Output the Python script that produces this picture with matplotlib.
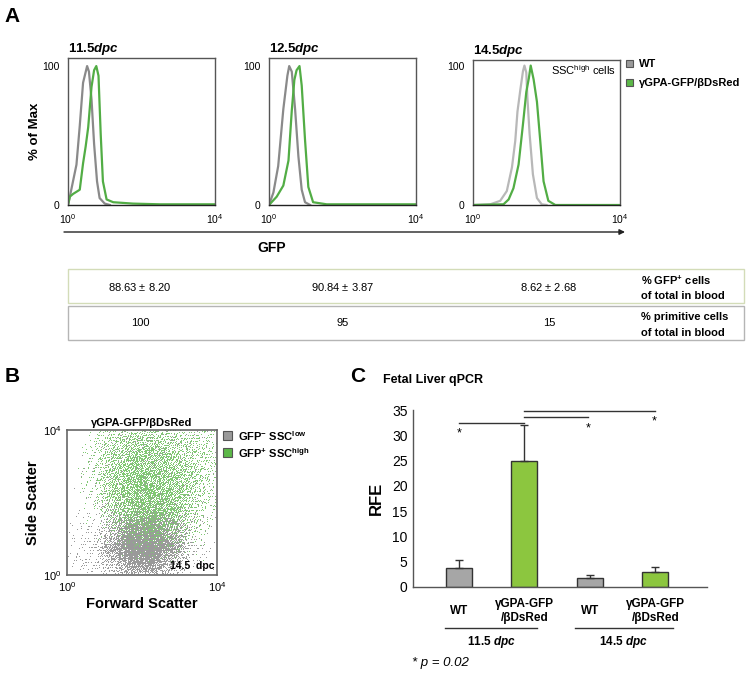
import numpy as np
import matplotlib
matplotlib.use("Agg")
import matplotlib.pyplot as plt
from matplotlib.patches import Rectangle

plt.rcParams['font.family'] = ['Liberation Sans', 'DejaVu Sans']
plt.rcParams['mathtext.fontset'] = 'custom'
plt.rcParams['mathtext.rm'] = 'Liberation Sans'
plt.rcParams['mathtext.it'] = 'Liberation Sans:italic'
plt.rcParams['mathtext.bf'] = 'Liberation Sans:bold'
plt.rcParams['mathtext.bfit'] = 'Liberation Sans:bold:italic'

# ---- data: panel A histograms (x in log10 decades, y in % of max) ----
h115_wt_x = [0.0, 0.05, 0.23, 0.32, 0.41, 0.52, 0.57, 0.64, 0.71, 0.79, 0.86, 1.0, 1.14]
h115_wt_y = [0, 6, 29, 57, 88, 100, 96, 76, 44, 17, 5, 1, 0]
h115_gfp_x = [0.0, 0.05, 0.14, 0.32, 0.41, 0.48, 0.55, 0.64, 0.71, 0.77, 0.83, 0.89, 0.95, 1.05, 1.23, 1.77, 2.5, 4.0]
h115_gfp_y = [0, 6, 8, 11, 30, 42, 56, 85, 97, 100, 93, 51, 17, 4, 2, 1, 0.5, 0.5]

h125_wt_x = [0.0, 0.12, 0.25, 0.39, 0.5, 0.55, 0.62, 0.71, 0.8, 0.89, 0.98, 1.12]
h125_wt_y = [0, 9, 28, 69, 93, 100, 96, 69, 35, 11, 2, 0]
h125_gfp_x = [0.0, 0.21, 0.39, 0.53, 0.62, 0.69, 0.75, 0.83, 0.89, 0.98, 1.07, 1.2, 1.57, 4.0]
h125_gfp_y = [0, 6, 14, 32, 68, 90, 97, 100, 86, 47, 13, 2, 0.5, 0.5]

h145_wt_x = [0.0, 0.47, 0.74, 0.92, 1.06, 1.15, 1.21, 1.29, 1.36, 1.4, 1.45, 1.48, 1.54, 1.63, 1.74, 1.87, 2.0]
h145_wt_y = [0, 0.5, 3, 10, 27, 46, 67, 83, 96, 100, 95, 77, 51, 22, 5, 0.5, 0]
h145_gfp_x = [0.0, 0.83, 0.97, 1.1, 1.24, 1.36, 1.45, 1.52, 1.57, 1.65, 1.74, 1.83, 1.92, 2.05, 2.24, 4.0]
h145_gfp_y = [0, 0.5, 4, 12, 29, 58, 81, 91, 100, 90, 74, 46, 17, 3, 0, 0]

hist_days = ["11.5", "12.5", "14.5"]

# table under panel A
gfp_mean = ["88.63", "90.84", "8.62"]
gfp_sd = ["8.20", "3.87", "2.68"]
primitive_pct = ["100", "95", "15"]

# ---- data: panel B scatter density (events per 0.5-decade cell, rows top -> bottom) ----
green_grid = [
    [0, 12, 45, 65, 65, 55, 40, 22],
    [0, 18, 75, 105, 105, 85, 55, 28],
    [0, 20, 90, 130, 130, 110, 65, 28],
    [0, 15, 80, 140, 150, 120, 65, 22],
    [0, 5, 50, 110, 130, 110, 55, 12],
    [0, 0, 15, 50, 70, 60, 28, 5],
    [0, 0, 0, 10, 15, 15, 5, 0],
    [0, 0, 0, 0, 0, 0, 0, 0],
]
gray_grid = [
    [0, 4, 10, 12, 12, 10, 6, 2],
    [0, 5, 12, 15, 15, 12, 6, 2],
    [0, 5, 12, 18, 18, 14, 6, 2],
    [1, 6, 15, 25, 25, 18, 8, 2],
    [2, 8, 30, 60, 60, 35, 10, 3],
    [4, 12, 80, 250, 280, 120, 20, 4],
    [8, 20, 150, 450, 450, 200, 25, 4],
    [12, 15, 60, 180, 180, 60, 10, 2],
]

# ---- data: panel C qPCR ----
bar_labels = ["WT", "γGPA-GFP\n/βDsRed", "WT", "γGPA-GFP\n/βDsRed"]
rfe = [3.8, 25.0, 1.8, 3.0]
rfe_err = [1.5, 7.0, 0.5, 1.0]
groups = ["11.5", "14.5"]

W, H = 754, 678
fig = plt.figure(figsize=(W / 100, H / 100), dpi=100)


def box(l, t, r, b):
    return [l / W, 1 - b / H, (r - l) / W, (b - t) / H]


GRAY_LINE = '#8a8a8a'
GREEN_LINE = '#52ad45'

# ---- panel A ----
hist_boxes = [(68, 58, 215, 205), (269, 58, 416, 205), (473, 60, 620, 205)]
hist_data = [(h115_wt_x, h115_wt_y, h115_gfp_x, h115_gfp_y),
             (h125_wt_x, h125_wt_y, h125_gfp_x, h125_gfp_y),
             (h145_wt_x, h145_wt_y, h145_gfp_x, h145_gfp_y)]
hist_top = [105.8, 105.8, 104.0]
for i, (bx, d) in enumerate(zip(hist_boxes, hist_data)):
    ax = fig.add_axes(box(*bx))
    wt_col = GRAY_LINE if i < 2 else '#b8b8b8'
    ax.plot(d[0], d[1], color=wt_col, lw=1.6)
    ax.plot(d[2], d[3], color=GREEN_LINE, lw=1.6)
    ax.set_xlim(0, 4)
    ax.set_ylim(0, hist_top[i])
    ax.set_xticks([0, 4], ['$10^0$', '$10^4$'])
    ax.set_yticks([0, 100], ['0', '100'])
    ax.tick_params(axis='x', length=0, labelsize=7.5, pad=5)
    ax.tick_params(axis='y', length=0, labelsize=7.5, pad=6)
    for s in ax.spines.values():
        s.set_color('#555555')
        s.set_linewidth(1)
    ax.spines['bottom'].set_color('#222222')
    ax.set_title(hist_days[i] + r'$\mathbfit{dpc}$', loc='left', fontsize=9.5,
                 fontweight='bold', pad=4)
    if i == 2:
        ax.text(0.97, 0.93, r'SSC$^{\rm high}$ cells', transform=ax.transAxes,
                ha='right', va='center', fontsize=8)

# ---- panel B ----
axb = fig.add_axes(box(67, 430, 217, 575))
# deterministic low-discrepancy placement of the events of each cell
phi4 = 1.1673039782614187
alph = [(1 / phi4 ** k) % 1 for k in range(1, 5)]
for grid, col in [(gray_grid, '#9a9a9a'), (green_grid, '#80c873')]:
    xs, ys = [], []
    n0 = 0
    nrow = len(grid)
    for r, row in enumerate(grid):
        for c, cnt in enumerate(row):
            n = np.arange(n0, n0 + cnt * 2)
            n0 += cnt * 2
            q = [(0.5 + a * n) % 1 for a in alph]
            cx = c * 0.5 + 0.25
            cy = (nrow - 1 - r) * 0.5 + 0.25
            xs.append(cx + (q[0] + q[1] - 1) * 0.5)
            ys.append(cy + (q[2] + q[3] - 1) * 0.5)
    xs = np.concatenate(xs)
    ys = np.concatenate(ys)
    keep = (xs > 0.02) & (xs < 3.98) & (ys > 0.02) & (ys < 3.98)
    axb.plot(xs[keep], ys[keep], ',', color=col)
axb.set_xlim(0, 4)
axb.set_ylim(0, 4)
axb.set_xticks([0, 4], ['$10^0$', '$10^4$'])
axb.set_yticks([0, 4], ['$10^0$', '$10^4$'])
axb.tick_params(length=0, labelsize=8, pad=4)
for s in axb.spines.values():
    s.set_color('#666666')
    s.set_linewidth(1.2)
axb.set_title('γGPA-GFP/βDsRed', fontsize=8, fontweight='bold', pad=3)
axb.set_xlabel('Forward Scatter', fontsize=10.5, fontweight='bold', labelpad=2)
axb.set_ylabel('Side Scatter', fontsize=10.5, fontweight='bold', labelpad=2)
axb.text(0.98, 0.03, '14.5  dpc', transform=axb.transAxes, ha='right', va='bottom',
         fontsize=7.5, fontweight='bold')

# ---- panel C ----
axc = fig.add_axes(box(413, 410, 707, 587))
xpos = np.arange(len(rfe))
bar_cols = ['#a6a6a6', '#8cc63f', '#a6a6a6', '#8cc63f']
axc.bar(xpos, rfe, width=0.4, color=bar_cols, edgecolor='#333333', linewidth=1, zorder=2)
axc.errorbar(xpos, rfe, yerr=[[0] * len(rfe), rfe_err], fmt='none', ecolor='#333333',
             elinewidth=1, capsize=3, capthick=1, zorder=3)
axc.set_xlim(-0.70, 3.79)
axc.set_ylim(0, 35)
axc.set_yticks(np.arange(0, 36, 5))
axc.set_xticks([])
axc.tick_params(length=0, labelsize=10, pad=4)
for s in ['top', 'right']:
    axc.spines[s].set_visible(False)
for s in ['left', 'bottom']:
    axc.spines[s].set_color('#555555')
    axc.spines[s].set_linewidth(1)
axc.set_ylabel('RFE', fontsize=12, fontweight='bold', labelpad=6)

# significance brackets
sig = [(0, 1, 32.4, 0, 30.4), (1, 1.98, 33.6, 1.98, 31.4), (1, 2.99, 34.8, 2.99, 32.8)]
for x0, x1, yl, xs_, ys_ in sig:
    axc.plot([x0, x1], [yl, yl], color='#333333', lw=1, clip_on=False)
    axc.text(xs_, ys_, '*', ha='center', va='center', fontsize=9)

trans = axc.get_xaxis_transform()
for x, lab in zip(xpos, bar_labels):
    axc.text(x, -0.135, lab, transform=trans, ha='center', va='center',
             fontsize=8.5, fontweight='bold', clip_on=False)
group_spans = [(-0.21, 1.2), (1.77, 3.27)]
for (g0, g1), glab in zip(group_spans, groups):
    axc.plot([g0, g1], [-0.232, -0.232], transform=trans, color='#333333', lw=1,
             clip_on=False)
    axc.text((g0 + g1) / 2, -0.31, glab + r' $\mathbfit{dpc}$', transform=trans,
             ha='center', va='center', fontsize=8.5, fontweight='bold', clip_on=False)

# ---- overlay for figure level text ----
ov = fig.add_axes([0, 0, 1, 1])
ov.set_xlim(0, W)
ov.set_ylim(H, 0)
ov.axis('off')

ov.text(12, 17, 'A', fontsize=15, fontweight='heavy', ha='center', va='center')
ov.text(12, 376, 'B', fontsize=15, fontweight='heavy', ha='center', va='center')
ov.text(358, 376, 'C', fontsize=15, fontweight='heavy', ha='center', va='center')

ov.text(35, 131, '% of Max', rotation=90, fontsize=9.5, fontweight='bold',
        ha='center', va='center')
ov.annotate('', xy=(625, 232), xytext=(64, 232),
            arrowprops=dict(arrowstyle='-|>', color='#222222', lw=1,
                            mutation_scale=8, shrinkA=0, shrinkB=0))
ov.text(272, 248, 'GFP', fontsize=10, fontweight='bold', ha='center', va='center')

# legend A
ov.add_patch(Rectangle((626, 60), 7, 7, facecolor='#9a9a9a', edgecolor='#555555', lw=0.8))
ov.add_patch(Rectangle((626, 79), 7, 7, facecolor='#5cb848', edgecolor='#555555', lw=0.8))
ov.text(639, 64, 'WT', fontsize=8, fontweight='bold', va='center')
ov.text(639, 83, 'γGPA-GFP/βDsRed', fontsize=8, fontweight='bold', va='center')

# table
ov.add_patch(Rectangle((68, 269), 676, 34, facecolor='none', edgecolor='#d3dcb8', lw=1))
ov.add_patch(Rectangle((68, 306), 676, 34, facecolor='none', edgecolor='#b5b5b5', lw=1))
col_x = [140, 343, 549]
for cx, m, sd, p in zip(col_x, gfp_mean, gfp_sd, primitive_pct):
    ov.text(cx, 287, m + r' ± $\mathit{' + sd + '}$', fontsize=8, ha='center', va='center')
    ov.text(cx, 323, p, fontsize=8, ha='center', va='center')
ov.text(641, 280, r'% GFP$^{\mathbf{+}}$ cells', fontsize=8, fontweight='bold', va='center')
ov.text(641, 296, 'of total in blood', fontsize=8, fontweight='bold', va='center')
ov.text(641, 317, '% primitive cells', fontsize=8, fontweight='bold', va='center')
ov.text(641, 333, 'of total in blood', fontsize=8, fontweight='bold', va='center')

# legend B
ov.add_patch(Rectangle((223, 431), 9, 9, facecolor='#9a9a9a', edgecolor='#555555', lw=0.8))
ov.add_patch(Rectangle((223, 448), 9, 9, facecolor='#5cb848', edgecolor='#555555', lw=0.8))
ov.text(238, 436, r'GFP$^{\mathbf{-}}$ SSC$^{\mathbf{low}}$', fontsize=8, fontweight='bold', va='center')
ov.text(238, 453, r'GFP$^{\mathbf{+}}$ SSC$^{\mathbf{high}}$', fontsize=8, fontweight='bold', va='center')

# panel C title and footnote
ov.text(383, 380, 'Fetal Liver qPCR', fontsize=9, fontweight='bold', va='center')
ov.text(412, 663, '* p = 0.02', fontsize=9.5, style='italic', va='center')

fig.savefig('out.png', dpi=100)
